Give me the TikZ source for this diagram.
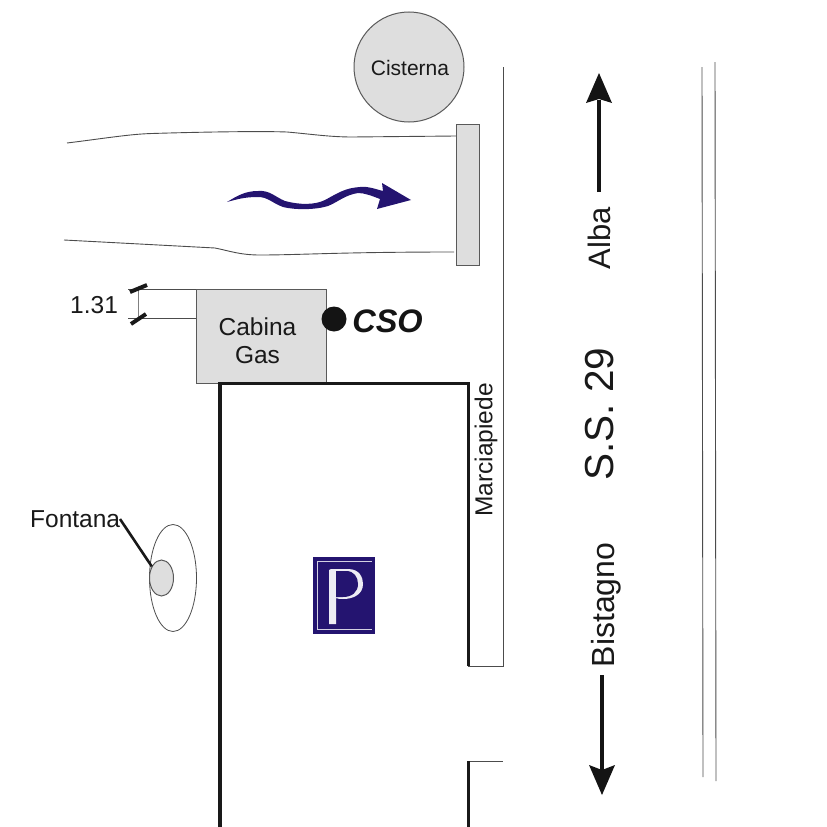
\documentclass[tikz,border=0pt]{standalone}
\usepackage{fontspec}
\usetikzlibrary{shapes.geometric}
\setmainfont{Liberation Sans}
\begin{document}
\begin{tikzpicture}[x=1pt,y=-1pt,
 thinline/.style={draw=black!70,line width=0.9pt},
 wall/.style={draw=black!90,line width=3.2pt},
 grayfill/.style={fill=black!13,draw=black!65,line width=1pt},
 lbl/.style={inner sep=0pt,text=black!90,font=\fontsize{24.5}{28}\selectfont,align=center},
 navy/.style={fill=navyc,draw=none}]
\definecolor{navyc}{RGB}{36,20,112}
\useasboundingbox (0,0) rectangle (827,827);
% Cisterna
\node[circle,grayfill,minimum size=110pt,inner sep=0pt] (cist) at (409,67) {};
\node[lbl,font=\fontsize{21}{24}\selectfont] at (410,68) {Cisterna};
% Marciapiede
\coordinate (m1) at (503,67);\coordinate (m2) at (503,666);\coordinate (m3) at (468,666);
\draw[thinline] (m1) -- (m2) -- (m3);
\draw[thinline] (468,761) -- (503,761);
% road lines
\draw[thinline] (702,67) -- (703,777);
\draw[thinline] (715,62) -- (716,781);
% rect
\node[grayfill,minimum width=23pt,minimum height=141pt,inner sep=0pt] (gate) at (467.5,195) {};
% Access road
\draw[thinline] (67,143) .. controls (100,139) and (130,134) .. (152,133.5) .. controls (200,132) and (260,131) .. (287,132) .. controls (310,134) and (330,137) .. (352,137) -- (456,136);
\draw[thinline] (64,240) -- (215,248) .. controls (230,251) and (240,255) .. (260,255) .. controls (300,255) and (340,252) .. (454,252);
% wavy arrow
\draw[navy] (227,202) .. controls (237,196) and (245,191) .. (258,191) .. controls (270,190) and (275,197) .. (285,201) .. controls (300,205) and (315,205) .. (325,200) .. controls (338,193) and (345,188) .. (360,187) .. controls (368,186) and (375,189) .. (383,191) -- (382,183) -- (411,200) -- (377,209) -- (380,199) .. controls (372,196) and (365,193) .. (358,193) .. controls (345,195) and (338,202) .. (328,206) .. controls (315,210) and (295,210) .. (283,207) .. controls (272,203) and (268,197) .. (258,197) .. controls (245,197) and (238,199) .. (227,202) -- cycle;
% dimension
\coordinate (d1) at (197,289.5);\coordinate (d2) at (197,318.5);
\draw[thinline] (d1) -- (128,289.5);
\draw[thinline] (d2) -- (128,318.5);
\draw[draw=black!50,line width=1pt] (138,289.5) -- (138,318.5);
\draw[line width=4pt,black!90] (130,292) -- (147,285);
\draw[line width=4pt,black!90] (131,324) -- (146,314);
\node[lbl,anchor=west] at (70,305) {1.31};
% Cabina
\node[grayfill,minimum width=130pt,minimum height=94pt,inner sep=0pt] (cab) at (261.5,336) {};
\node[lbl,font=\fontsize{24.5}{28}\selectfont] at (257.5,341) {Cabina\\Gas};
% CSO
\fill[black!92] (334,319) circle (12.5pt);
\node[inner sep=0pt,text=black!92,font=\fontsize{32.5}{36}\selectfont\bfseries\itshape] at (387.5,321) {CSO};
% building
\draw[wall] (220,827) -- (220,383.5) -- (468.5,383.5) -- (468.5,666);
\draw[wall] (468.5,761) -- (468.5,827);
% Marciapiede label
\node[lbl,rotate=90] at (486,450) {Marciapiede};
% Fontana
\node[ellipse,draw=black!70,line width=0.8pt,minimum width=47pt,minimum height=107pt,inner sep=0pt] (f1) at (173,578) {};
\node[ellipse,grayfill,minimum width=24pt,minimum height=36pt,inner sep=0pt] (f2) at (161.5,578) {};
\node[lbl,anchor=west] (flab) at (30,519) {Fontana};
\coordinate (ft) at (120,519);
\draw[line width=2.6pt,black!90] (ft) -- (f2.130);
% Parking
\node[fill=navyc,minimum width=62pt,minimum height=77pt,inner sep=0pt] (park) at (344,595) {};
\draw[white!80!navyc,line width=0.8pt] (317,629) -- (317,561) -- (372,561);
\draw[white!80!navyc,line width=0.8pt] (317,629) -- (372,629);
\fill[white!92!navyc] (331,569) -- (348,569) .. controls (360,569) and (363,578) .. (363,584) .. controls (363,594) and (354,599) .. (343,599) .. controls (340,599) and (338,599) .. (336,598) -- (336,624) -- (329,624) -- (329,570) -- cycle;
\fill[navyc] (336,571) -- (346,571) .. controls (354,571) and (358,577) .. (358,584) .. controls (358,592) and (352,597) .. (343,597) -- (336,597) -- cycle;
% S.S. 29 / directions
\node[lbl,rotate=90,font=\fontsize{40.5}{44}\selectfont] (ss) at (600,414) {S.S. 29};
\node[lbl,rotate=90,font=\fontsize{31}{34}\selectfont] (alba) at (599,238) {Alba};
\node[lbl,rotate=90,font=\fontsize{32}{35}\selectfont] (bist) at (606,605) {Bistagno};
\coordinate (at) at (599,73);\coordinate (bt) at (602,795);
\coordinate (as) at (599,192);\coordinate (bs) at (602,675);
\draw[line width=3.8pt,black!92] (as) -- (599,100);
\fill[black!92] (at) -- (612,103) -- (599,99) -- (586,103) -- cycle;
\draw[line width=3.8pt,black!92] (bs) -- (602,770);
\fill[black!92] (bt) -- (589,765) -- (602,770) -- (615,765) -- cycle;
\end{tikzpicture}
\end{document}
